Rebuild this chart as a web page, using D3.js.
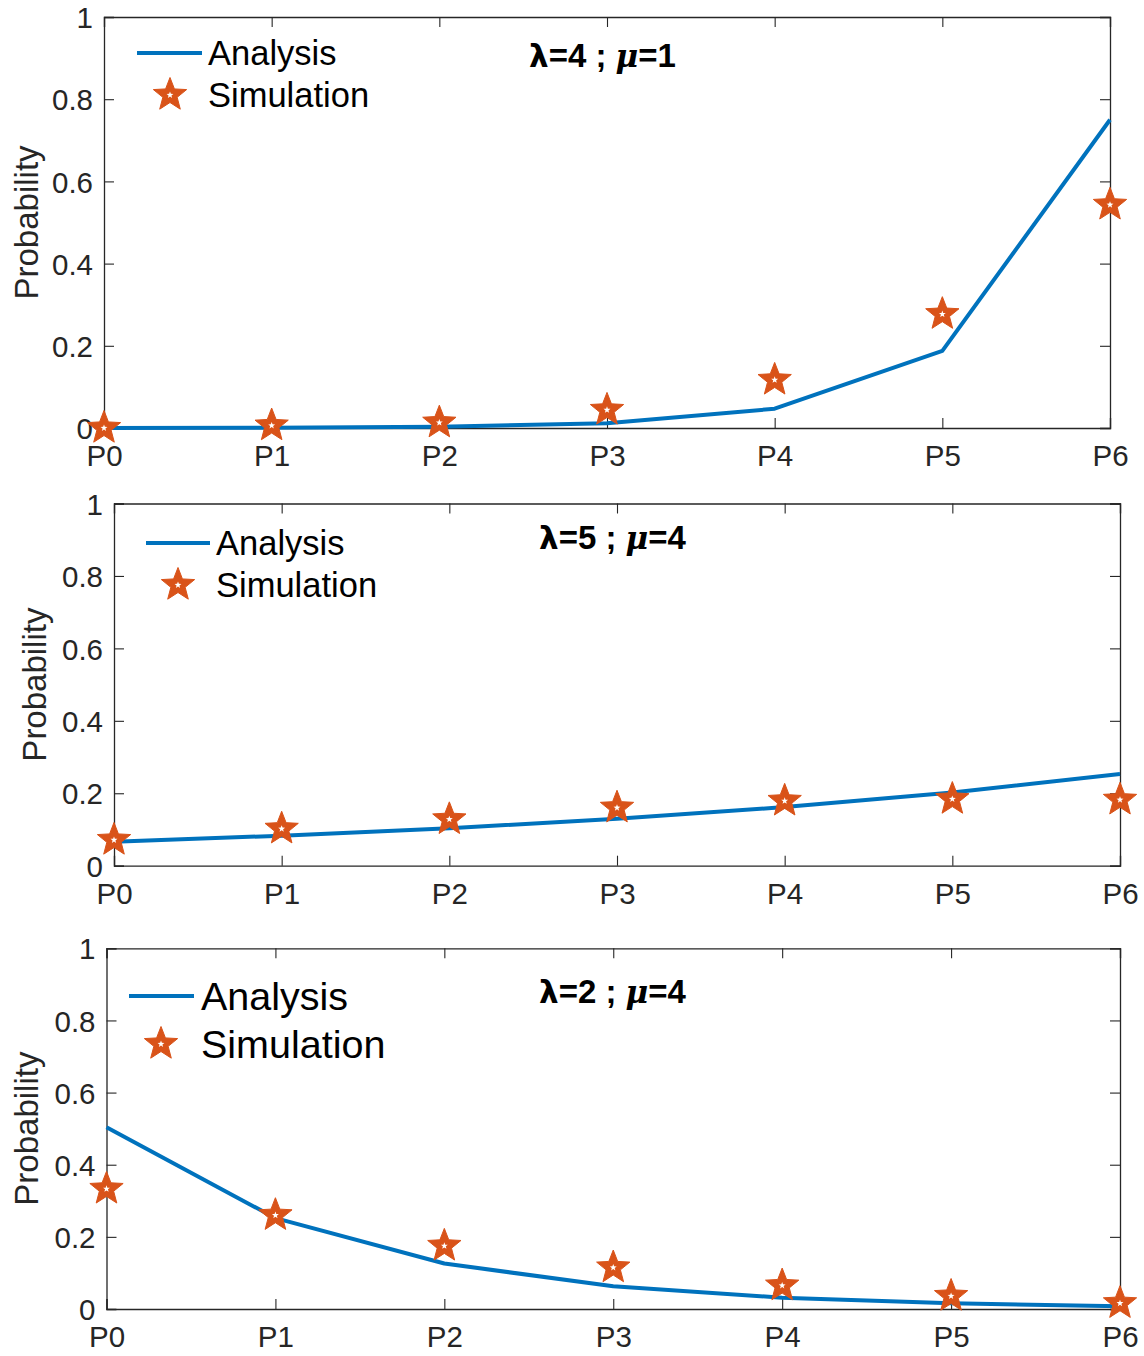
<!DOCTYPE html>
<html>
<head>
<meta charset="utf-8">
<script src="https://cdn.jsdelivr.net/npm/d3@7"></script>
<style>
  html, body { margin: 0; padding: 0; background: #fff; }
  svg { display: block; }
</style>
</head>
<body>
<svg id="chart" width="1144" height="1356"></svg>
<script>
// ---------------- data ----------------
const categories = ["P0", "P1", "P2", "P3", "P4", "P5", "P6"];
const yTicks = [0, 0.2, 0.4, 0.6, 0.8, 1];
const yTickLabels = ["0", "0.2", "0.4", "0.6", "0.8", "1"];
const seriesNames = ["Analysis", "Simulation"];
const yLabel = "Probability";

// panel 1: lambda=4, mu=1
const analysis1 = [0.0002, 0.0007, 0.0029, 0.0117, 0.0469, 0.1875, 0.7500];
const simulation1 = [0.000, 0.006, 0.013, 0.044, 0.117, 0.277, 0.543];
// panel 2: lambda=5, mu=4
const analysis2 = [0.0663, 0.0829, 0.1036, 0.1295, 0.1619, 0.2024, 0.2530];
const simulation2 = [0.071, 0.102, 0.128, 0.160, 0.179, 0.184, 0.182];
// panel 3: lambda=2, mu=4
const analysis3 = [0.5039, 0.2520, 0.1260, 0.0630, 0.0315, 0.0157, 0.0079];
const simulation3 = [0.333, 0.260, 0.175, 0.115, 0.065, 0.036, 0.016];

const lambdas = ["4", "5", "2"];
const mus = ["1", "4", "4"];

// ---------------- layout / style ----------------
const panels = [
  { analysis: analysis1, simulation: simulation1, x0: 104, x1: 1110, y0: 428, y1: 17,
    ylabX: 38, legLineX: [137, 202], legY: [53, 95], legTextX: 208, legFont: 34.5, legStarX: 170,
    annX: 529, annY: 67 },
  { analysis: analysis2, simulation: simulation2, x0: 114, x1: 1120, y0: 865.7, y1: 503.5,
    ylabX: 46, legLineX: [146, 210], legY: [543, 585], legTextX: 216, legFont: 34.5, legStarX: 178,
    annX: 539, annY: 549 },
  { analysis: analysis3, simulation: simulation3, x0: 106.5, x1: 1120, y0: 1309, y1: 948.3,
    ylabX: 38, legLineX: [129, 194], legY: [996, 1044], legTextX: 201, legFont: 39.5, legStarX: 161,
    annX: 539, annY: 1003 }
];

const blue = "#0072BD";
const orange = "#D95319";
const axisColor = "#262626";
const font = "'Liberation Sans', Arial, Helvetica, sans-serif";
const tickFont = 29.5;
const tickLen = 10;
const starR = 17.5;

const svg = d3.select("#chart");

function starPath(cx, cy, R, ratio) {
  const r = R * ratio;
  const pts = [];
  for (let i = 0; i < 10; i++) {
    const a = -Math.PI / 2 + i * Math.PI / 5;
    const rr = i % 2 === 0 ? R : r;
    pts.push([cx + rr * Math.cos(a), cy + rr * Math.sin(a)]);
  }
  return d3.line()(pts) + "Z";
}

function drawStar(g, cx, cy) {
  g.append("path").attr("d", starPath(cx, cy, starR, 0.43))
    .attr("fill", orange).attr("stroke", orange).attr("stroke-width", 1);
  g.append("path").attr("d", starPath(cx, cy, 3.6, 0.42))
    .attr("fill", "#fff");
}

panels.forEach((p, k) => {
  const g = svg.append("g");
  const x = d3.scalePoint().domain(categories).range([p.x0, p.x1]);
  const y = d3.scaleLinear().domain([0, 1]).range([p.y0, p.y1]);

  const bottom = g.append("g").attr("transform", `translate(0,${p.y0})`)
    .call(d3.axisBottom(x).tickSize(-tickLen).tickPadding(17));
  const left = g.append("g").attr("transform", `translate(${p.x0},0)`)
    .call(d3.axisLeft(y).tickValues(yTicks).tickFormat((d, i) => yTickLabels[i])
      .tickSize(-tickLen).tickPadding(11));
  const top = g.append("g").attr("transform", `translate(0,${p.y1})`)
    .call(d3.axisTop(x).tickSize(-tickLen).tickFormat(""));
  const right = g.append("g").attr("transform", `translate(${p.x1},0)`)
    .call(d3.axisRight(y).tickValues(yTicks).tickSize(-tickLen).tickFormat(""));

  [bottom, left, top, right].forEach(a => {
    a.select(".domain").attr("stroke", axisColor).attr("stroke-width", 1.3);
    a.selectAll(".tick line").attr("stroke", axisColor).attr("stroke-width", 1.1);
    a.selectAll(".tick text").attr("fill", axisColor)
      .style("font-family", font).style("font-size", tickFont + "px");
  });
  bottom.selectAll(".tick text").attr("dy", "0.71em");
  left.selectAll(".tick text").attr("dy", "0.36em");

  g.append("text")
    .attr("transform", `translate(${p.ylabX},${(p.y0 + p.y1) / 2}) rotate(-90)`)
    .attr("text-anchor", "middle")
    .attr("fill", axisColor)
    .style("font-family", font).style("font-size", "33px")
    .text(yLabel);

  g.append("path")
    .datum(p.analysis)
    .attr("fill", "none")
    .attr("stroke", blue)
    .attr("stroke-width", 4)
    .attr("stroke-linejoin", "round")
    .attr("d", d3.line().x((d, i) => x(categories[i])).y(d => y(d)));

  const sg = g.append("g");
  p.simulation.forEach((d, i) => drawStar(sg, x(categories[i]), y(d)));

  g.append("line")
    .attr("x1", p.legLineX[0]).attr("x2", p.legLineX[1])
    .attr("y1", p.legY[0]).attr("y2", p.legY[0])
    .attr("stroke", blue).attr("stroke-width", 4);
  drawStar(g, p.legStarX, p.legY[1]);
  seriesNames.forEach((s, i) => {
    g.append("text")
      .attr("x", p.legTextX).attr("y", p.legY[i])
      .attr("dy", "0.36em")
      .attr("fill", "#000")
      .style("font-family", font).style("font-size", p.legFont + "px")
      .text(s);
  });

  const t = g.append("text")
    .attr("x", p.annX).attr("y", p.annY)
    .attr("fill", "#000")
    .style("font-family", font)
    .style("font-weight", "bold").style("font-size", "33px");
  t.append("tspan").style("font-family", "'DejaVu Sans', sans-serif").style("font-size", "31px").text("λ");
  t.append("tspan").text("=" + lambdas[k] + " ; ");
  t.append("tspan").style("font-style", "italic").style("font-family", "'DejaVu Serif', serif")
    .style("font-size", "31px").text("μ");
  t.append("tspan").text("=" + mus[k]);
});
</script>
</body>
</html>
